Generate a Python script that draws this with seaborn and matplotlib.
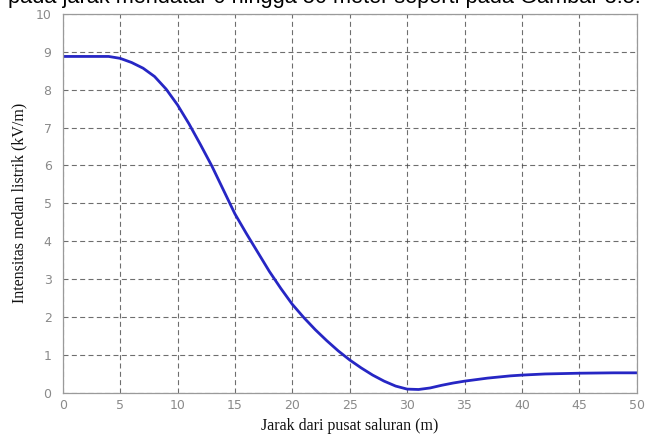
import matplotlib
matplotlib.use("Agg")
import matplotlib.pyplot as plt
import seaborn as sns
import pandas as pd

# Electric field intensity beneath the transmission line vs. horizontal distance
jarak = [0, 2, 4, 5, 6, 7, 8, 9, 10, 11, 12, 13, 14, 15, 16, 17, 18, 19, 20,
         21, 22, 23, 24, 25, 26, 27, 28, 29, 30, 31, 32, 33, 34, 35, 36, 37,
         38, 39, 40, 42, 45, 48, 50]
intensitas = [8.88, 8.88, 8.88, 8.83, 8.72, 8.57, 8.35, 8.02, 7.60, 7.10,
              6.55, 5.98, 5.35, 4.72, 4.20, 3.70, 3.20, 2.75, 2.33, 1.98,
              1.66, 1.37, 1.10, 0.86, 0.65, 0.46, 0.30, 0.17, 0.09, 0.08,
              0.12, 0.19, 0.25, 0.30, 0.34, 0.38, 0.41, 0.44, 0.46, 0.49,
              0.51, 0.52, 0.52]
xticks = [0, 5, 10, 15, 20, 25, 30, 35, 40, 45, 50]
yticks = [0, 1, 2, 3, 4, 5, 6, 7, 8, 9, 10]

df = pd.DataFrame({"jarak": jarak, "intensitas": intensitas})

sns.set_theme(style="white")
plt.rcParams["font.family"] = ["DejaVu Sans"]

fig = plt.figure(figsize=(6.56, 4.34), dpi=100)
ax = fig.add_axes([0.0956, 0.0956, 0.875, 0.872])

sns.lineplot(data=df, x="jarak", y="intensitas", ax=ax, color="#2626c4",
             linewidth=2.0)

ax.set_xlim(0, 50)
ax.set_ylim(0, 10)
ax.set_xticks(xticks)
ax.set_yticks(yticks)
ax.set_xticklabels([str(t) for t in xticks])
ax.set_yticklabels([str(t) for t in yticks])
ax.tick_params(axis="both", labelsize=9, labelcolor="#8a8a8a",
               direction="in", length=0, pad=5)
ax.tick_params(axis="y", pad=8)

ax.grid(True, linestyle=(0, (4.5, 3)), color="#4a4a4a", linewidth=0.8,
        alpha=0.8)
for s in ax.spines.values():
    s.set_color("#9a9a9a")
    s.set_linewidth(0.9)

ax.set_xlabel("Jarak dari pusat saluran (m)", family="Liberation Serif",
              fontsize=11.5, color="#111111", labelpad=4)
ax.set_ylabel("Intensitas medan listrik (kV/m)", family="Liberation Serif",
              fontsize=11.5, color="#111111", labelpad=6)

# Body text line running above the figure
fig.text(8 / 656, 1 - 3.5 / 434,
         "pada jarak mendatar 0 hingga 50 meter seperti pada Gambar 3.5.",
         family="Liberation Sans", fontsize=15.7, color="black",
         ha="left", va="baseline")

fig.savefig("out.png", dpi=100)
